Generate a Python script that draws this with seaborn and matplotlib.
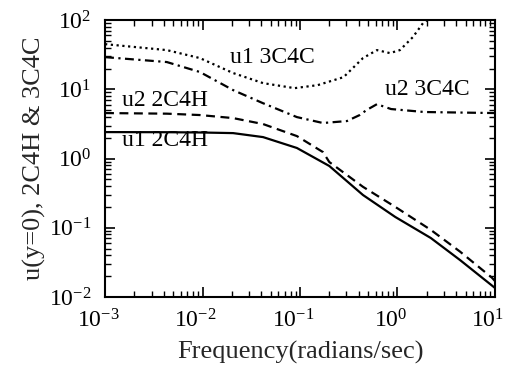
import numpy as np
import pandas as pd
import matplotlib
matplotlib.use("Agg")
import matplotlib.pyplot as plt
import matplotlib.transforms as mtransforms
import seaborn as sns
from matplotlib.ticker import LogLocator, LogFormatterSciNotation, NullFormatter

# Frequency response magnitudes (radians/sec vs. magnitude)
u1_2c4h_freq = [0.001, 0.0043, 0.0094, 0.0206, 0.0418, 0.093, 0.2, 0.443, 0.95, 2.2, 4.4, 10.0]
u1_2c4h_mag = [2.41, 2.40, 2.38, 2.33, 2.04, 1.42, 0.78, 0.297, 0.143, 0.071, 0.034, 0.0135]

u2_2c4h_freq = [0.001, 0.0043, 0.0094, 0.0206, 0.0418, 0.093, 0.172, 0.2, 0.443, 0.95, 2.2, 4.4, 9.3, 10.0]
u2_2c4h_mag = [4.54, 4.45, 4.25, 3.84, 3.15, 2.11, 1.24, 0.89, 0.39, 0.20, 0.093, 0.045, 0.019, 0.017]

u1_3c4c_freq = [0.001, 0.0043, 0.0094, 0.0206, 0.0418, 0.088, 0.152, 0.28, 0.443, 0.616, 0.838, 1.06, 1.44, 1.83, 2.01]
u1_3c4c_mag = [45.0, 36.9, 28.3, 17.2, 12.3, 10.4, 11.5, 15.0, 28.3, 36.9, 33.4, 36.9, 56.9, 90.6, 100.0]

u2_3c4c_freq = [0.001, 0.0043, 0.0094, 0.0206, 0.0418, 0.093, 0.172, 0.303, 0.41, 0.48, 0.616, 0.86, 1.89, 10.0]
u2_3c4c_mag = [29.2, 24.8, 17.8, 9.75, 6.3, 3.97, 3.26, 3.48, 4.25, 5.0, 6.1, 5.19, 4.70, 4.54]

curve_labels = ["u1 2C4H", "u2 2C4H", "u1 3C4C", "u2 3C4C"]

sns.set_theme(style="ticks")
plt.rcParams["font.family"] = ["Liberation Serif", "DejaVu Serif"]
plt.rcParams["mathtext.fontset"] = "custom"
plt.rcParams["mathtext.rm"] = "Liberation Serif"
plt.rcParams["axes.unicode_minus"] = False

fig, ax = plt.subplots(figsize=(5.05, 3.73), dpi=100)
fig.subplots_adjust(left=0.208, right=0.980, top=0.946, bottom=0.204)

styles = [
    (u1_2c4h_freq, u1_2c4h_mag, "-"),
    (u2_2c4h_freq, u2_2c4h_mag, (0, (4, 2.5))),
    (u1_3c4c_freq, u1_3c4c_mag, (0, (1, 1.6))),
    (u2_3c4c_freq, u2_3c4c_mag, (0, (4, 2, 1, 2))),
]
for (fx, fy, ls), name in zip(styles, curve_labels):
    df = pd.DataFrame({"freq": fx, "mag": fy})
    sns.lineplot(data=df, x="freq", y="mag", ax=ax, color="black",
                 linestyle=ls, linewidth=1.6, sort=True)

ax.set(xscale="log", yscale="log")
ax.set_xlim(1e-3, 1e1)
ax.set_ylim(1e-2, 1e2)

for axis in (ax.xaxis, ax.yaxis):
    axis.set_major_locator(LogLocator(base=10, numticks=10))
    axis.set_minor_locator(LogLocator(base=10, subs=np.arange(2, 10), numticks=10))
    axis.set_major_formatter(LogFormatterSciNotation())
    axis.set_minor_formatter(NullFormatter())

ax.tick_params(which="both", direction="in", top=True, right=True, colors="black")
ax.tick_params(which="major", length=7, width=1.2, labelsize=17)
ax.tick_params(axis="y", which="major", pad=10)
ax.tick_params(axis="x", which="major", pad=9)
ax.tick_params(which="minor", length=4, width=1.0)
for s in ax.spines.values():
    s.set_linewidth(1.5)
    s.set_color("black")

# nudge x tick labels slightly left
shift = mtransforms.ScaledTranslation(-7 / 100, 0, fig.dpi_scale_trans)
for lbl in ax.get_xticklabels():
    lbl.set_transform(lbl.get_transform() + shift)

ax.set_xlabel("Frequency(radians/sec)", fontsize=19, labelpad=6)
ax.set_ylabel("u(y=0), 2C4H & 3C4C", fontsize=19, labelpad=2)

text_kw = dict(fontsize=17, color="black", ha="left", va="center")
ax.text(0.0191, 29.2, curve_labels[2], **text_kw)
ax.text(0.745, 10.1, curve_labels[3], **text_kw)
ax.text(0.00149, 7.0, curve_labels[1], **text_kw)
ax.text(0.00149, 1.85, curve_labels[0], **text_kw)

fig.savefig("out.png", dpi=100)
